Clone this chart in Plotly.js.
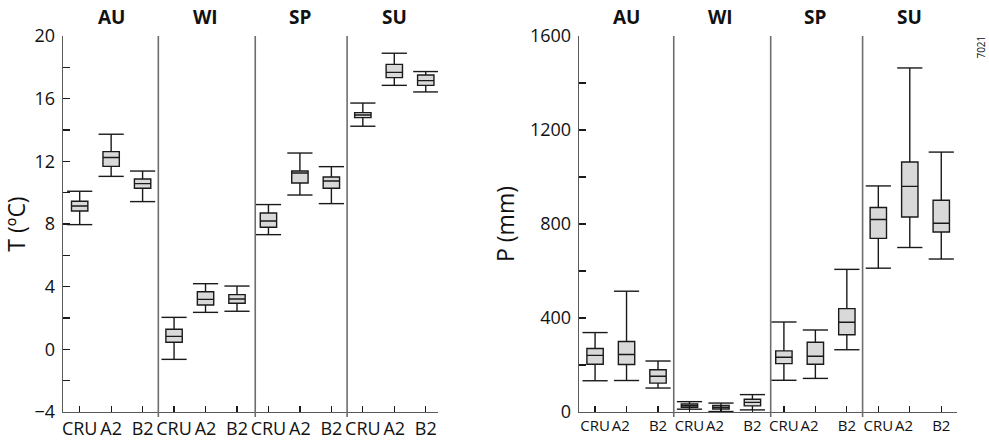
<!DOCTYPE html>
<html>
<head>
<meta charset="utf-8">
<script src="https://cdn.plot.ly/plotly-3.0.1.min.js"></script>
<style>
  html, body { margin: 0; padding: 0; background: #fff; }
  #chart { width: 989px; height: 442px; }
</style>
</head>
<body>
<div id="chart"></div>
<script>
// Seasons and data sources (observed CRU, scenarios A2 and B2)
const seasons = ['AU', 'WI', 'SP', 'SU'];
const sources = ['CRU', 'A2', 'B2'];

// Temperature (°C) box statistics, ordered AU CRU, AU A2, AU B2, WI CRU, ...
const tempLow  = [7.96, 11.04, 9.43, -0.64, 2.36, 2.43, 7.32, 9.85, 9.30, 14.24, 16.85, 16.43];
const tempQ1   = [8.83, 11.68, 10.28, 0.45, 2.83, 2.94, 7.79, 10.62, 10.28, 14.79, 17.34, 16.85];
const tempMed  = [9.15, 12.24, 10.58, 0.83, 3.19, 3.21, 8.19, 11.26, 10.74, 14.96, 17.68, 17.15];
const tempQ3   = [9.45, 12.62, 10.87, 1.28, 3.68, 3.49, 8.70, 11.38, 11.00, 15.11, 18.19, 17.51];
const tempHigh = [10.09, 13.73, 11.38, 2.04, 4.19, 4.04, 9.24, 12.53, 11.66, 15.72, 18.90, 17.73];

// Precipitation (mm) box statistics, same order
const precLow  = [133, 134, 102, 12, 2, 9, 135, 143, 265, 612, 700, 651];
const precQ1   = [203, 202, 123, 20, 13, 26, 206, 203, 329, 739, 830, 766];
const precMed  = [241, 245, 152, 27, 20, 41, 233, 237, 382, 819, 960, 803];
const precQ3   = [270, 300, 180, 34, 28, 54, 260, 297, 440, 870, 1064, 901];
const precHigh = [338, 514, 217, 44, 38, 74, 383, 349, 607, 962, 1464, 1106];

const plateNumber = '7021';

// x position of every box: one slot per source inside each season block
const positions = [];
const tickLabels = [];
seasons.forEach((s, si) => sources.forEach((src, ki) => {
  positions.push(si * sources.length + ki + 1);
  tickLabels.push(src);
}));
const seasonCentres = seasons.map((s, si) => si * sources.length + 2);
const separators = [3.5, 6.58, 9.5];

const ink = '#1a1a1a';
const axisGrey = '#5a5a5a';
const fontFamily = '"Open Sans", "Noto Sans", sans-serif';

function boxTrace(xa, ya, lo, q1, med, q3, hi) {
  return {
    type: 'box', xaxis: xa, yaxis: ya,
    x: positions, q1: q1, median: med, q3: q3,
    lowerfence: lo, upperfence: hi,
    width: 0.52, whiskerwidth: 0,
    fillcolor: '#d9d9d9',
    line: { color: ink, width: 1.4 },
    boxpoints: false, hoverinfo: 'skip', showlegend: false
  };
}

function capTrace(xa, ya, lo, hi) {
  return {
    type: 'scatter', mode: 'markers', xaxis: xa, yaxis: ya,
    x: positions.concat(positions), y: lo.concat(hi),
    marker: { symbol: 'line-ew', size: 18, color: ink, line: { color: ink, width: 1.4 } },
    hoverinfo: 'skip', showlegend: false
  };
}

const data = [
  boxTrace('x', 'y', tempLow, tempQ1, tempMed, tempQ3, tempHigh),
  capTrace('x', 'y', tempLow, tempHigh),
  boxTrace('x2', 'y2', precLow, precQ1, precMed, precQ3, precHigh),
  capTrace('x2', 'y2', precLow, precHigh)
];

// Right panel labels are set narrower, with A2 nudged towards CRU
const rightTickLabels = tickLabels.map(t => t === 'A2' ? 'A2\u00a0\u00a0\u00a0' : t);

function xAxis(domain, range, labels, anchor, fontSize) {
  return {
    domain: domain, range: range, anchor: anchor,
    showgrid: false, zeroline: false,
    showline: true, linecolor: axisGrey, linewidth: 1.3,
    ticks: 'inside', ticklen: 6, tickwidth: 1.2, tickcolor: ink,
    tickmode: 'array', tickvals: positions, ticktext: labels,
    tickangle: 0,
    tickfont: { family: fontFamily, size: fontSize, color: '#111' },
    fixedrange: true
  };
}

function yAxis(domain, range, dtick, minor, title, standoff, anchor) {
  return {
    domain: domain, range: range, anchor: anchor,
    showgrid: false, zeroline: false,
    showline: true, linecolor: axisGrey, linewidth: 1.3,
    ticks: 'inside', ticklen: 7, tickwidth: 1.2, tickcolor: ink,
    dtick: dtick, tick0: 0,
    minor: { dtick: minor, ticks: 'inside', ticklen: 7, tickwidth: 1.2, tickcolor: ink, showgrid: false },
    tickfont: { family: fontFamily, size: 18, color: '#111' },
    ticklabelstandoff: 3,
    title: { text: title, standoff: standoff, font: { family: fontFamily, size: 23, color: '#111' } },
    fixedrange: true
  };
}

const shapes = [];
['x', 'x2'].forEach(xa => separators.forEach(sx => shapes.push({
  type: 'line', xref: xa, yref: (xa === 'x' ? 'y' : 'y2') + ' domain',
  x0: sx, x1: sx, y0: -0.013, y1: 1,
  line: { color: '#6e6e6e', width: 1.6 }
})));

const annotations = [];
['x', 'x2'].forEach(xa => seasons.forEach((s, si) => annotations.push({
  xref: xa, yref: 'paper', x: seasonCentres[si], y: 1.0505,
  text: '<b>' + s + '</b>', showarrow: false, xanchor: 'center', yanchor: 'middle',
  font: { family: fontFamily, size: 19, color: '#111' }
})));
annotations.push({
  xref: 'paper', yref: 'paper', x: 1.0258, y: 0.9694,
  text: plateNumber, textangle: -90, showarrow: false,
  xanchor: 'center', yanchor: 'middle',
  font: { family: fontFamily, size: 10, color: '#111' }
});

const layout = {
  width: 989, height: 442,
  margin: { l: 63, r: 32, t: 36, b: 30 },
  paper_bgcolor: '#ffffff', plot_bgcolor: '#ffffff',
  showlegend: false,
  xaxis: xAxis([0, 0.4195], [0.47, 12.39], tickLabels, 'y', 18),
  yaxis: yAxis([0, 1], [-4, 20], 4, 2, 'T (ºC)', 3, 'x'),
  xaxis2: xAxis([0.5772, 1], [0.49, 12.5], rightTickLabels, 'y2', 15),
  yaxis2: yAxis([0, 1], [0, 1600], 400, 200, 'P (mm)', 9, 'x2'),
  shapes: shapes,
  annotations: annotations
};

Plotly.newPlot('chart', data, layout, { displayModeBar: false, staticPlot: true });
</script>
</body>
</html>
